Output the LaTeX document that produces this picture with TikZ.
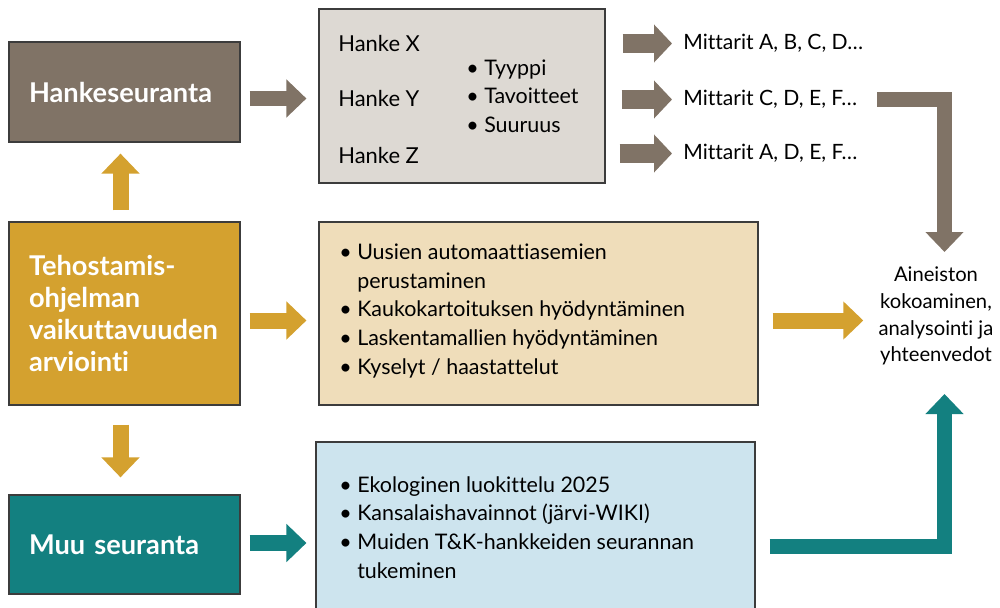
\documentclass[tikz,border=0pt]{standalone}
\usepackage{fontspec}
\setmainfont{Lato}[Ligatures=NoCommon]
\usepackage{xcolor}
\usetikzlibrary{arrows.meta}

\definecolor{hsbrown}{HTML}{807366}
\definecolor{hsgold}{HTML}{D4A12F}
\definecolor{hsteal}{HTML}{138080}
\definecolor{hkfill}{HTML}{DDD9D3}
\definecolor{midfill}{HTML}{EFDDBA}
\definecolor{lowfill}{HTML}{CDE4EE}
\definecolor{edge}{HTML}{3C3C3C}

\hyphenpenalty=10000

\tikzset{
  box/.style={draw=edge, line width=0.7pt, inner sep=0pt},
  title/.style={box, text=white, minimum width=4.62cm, text width=3.82cm,
    inner xsep=0.4cm, align=left, font=\bfseries\fontsize{15.5}{18.1}\selectfont},
  body/.style={inner sep=0pt, align=left, font=\fontsize{12.2}{16.3}\selectfont},
  barrow/.style={line width=0.32cm, -{Triangle[length=0.4cm,width=0.74cm]}},
  marrow/.style={line width=0.38cm, hsbrown, -{Triangle[length=0.36cm,width=0.74cm]}},
  earrow/.style={line width=0.3cm, line join=miter, -{Triangle[length=0.4cm,width=0.74cm]}},
}

\begin{document}
\begin{tikzpicture}[x=0.02cm, y=-0.02cm]
  \useasboundingbox (0,0) rectangle (1000,608);

  % left column
  \node[title, fill=hsbrown, minimum height=2cm] (hs) at (124.5,92) {Hankeseuranta};
  \node[title, fill=hsgold, minimum height=3.66cm] (teho) at (124.5,313.5)
    {Tehostamis-\\ohjelman\\vaikuttavuuden\\arviointi};
  \node[title, fill=hsteal, minimum height=1.98cm] (muu) at (124.5,544.5) {Muu seuranta};

  % lists
  \node[box, fill=hkfill, minimum width=5.72cm, minimum height=3.48cm] (hk) at (462,96) {};
  \node[box, fill=midfill, minimum width=8.78cm, minimum height=3.66cm] (mid) at (538.5,313.5) {};
  \node[box, fill=lowfill, minimum width=8.78cm, minimum height=3.4cm] (low) at (535.5,527) {};

  \node[body, anchor=west, font=\fontsize{12.5}{14}\selectfont] (hx) at (338,44) {Hanke X};
  \node[body, anchor=west, font=\fontsize{12.5}{14}\selectfont] (hy) at (338,99) {Hanke Y};
  \node[body, anchor=west, font=\fontsize{12.5}{14}\selectfont] (hz) at (338,155) {Hanke Z};
  \node[body, anchor=west] (hlist) at (466,96)
    {\textbullet\ Tyyppi\\\textbullet\ Tavoitteet\\\textbullet\ Suuruus};

  \node[body, anchor=west] (midlist) at (339,311)
    {\textbullet\ Uusien automaattiasemien\\
     \hphantom{\textbullet\ }perustaminen\\
     \textbullet\ Kaukokartoituksen hyödyntäminen\\
     \textbullet\ Laskentamallien hyödyntäminen\\
     \textbullet\ Kyselyt / haastattelut};
  \node[body, anchor=west] (lowlist) at (339,527.5)
    {\textbullet\ Ekologinen luokittelu 2025\\
     \textbullet\ Kansalaishavainnot (järvi-WIKI)\\
     \textbullet\ Muiden T\&K-hankkeiden seurannan\\
     \hphantom{\textbullet\ }tukeminen};

  % right column
  \node[body, anchor=west, font=\fontsize{12}{14}\selectfont] (m1) at (683,43.5) {Mittarit A, B, C, D\ldots};
  \node[body, anchor=west, font=\fontsize{12}{14}\selectfont] (m2) at (683,99.5) {Mittarit C, D, E, F\ldots};
  \node[body, anchor=west, font=\fontsize{12}{14}\selectfont] (m3) at (683,153.5) {Mittarit A, D, E, F\ldots};
  \node[body, align=center, font=\fontsize{11.5}{15.3}\selectfont] (ain) at (936,316)
    {Aineiston\\kokoaminen,\\analysointi ja\\yhteenvedot};
  \coordinate (aintop) at (944.5,252);
  \coordinate (ainbot) at (944.5,394);

  % arrows
  \draw[barrow, hsgold, shorten <=0.22cm, shorten >=0.22cm]
    ([xshift=-0.08cm]teho.north) -- ([xshift=-0.08cm]hs.south);
  \draw[barrow, hsgold, shorten <=0.38cm, shorten >=0.34cm]
    ([xshift=-0.08cm]teho.south) -- ([xshift=-0.08cm]muu.north);
  \draw[barrow, hsbrown, shorten <=0.18cm, shorten >=0.24cm]
    ([yshift=-0.13cm]hs.east) -- ([yshift=-0.13cm]hs.east -| hk.west);
  \draw[barrow, hsgold, shorten <=0.18cm, shorten >=0.24cm]
    ([yshift=-0.14cm]teho.east) -- ([yshift=-0.14cm]teho.east -| mid.west);
  \draw[barrow, hsteal, shorten <=0.18cm, shorten >=0.18cm]
    ([yshift=0.03cm]muu.east) -- ([yshift=0.03cm]muu.east -| low.west);

  \draw[marrow, shorten <=0.34cm, shorten >=0.22cm] (hk.east |- m1.west) -- (m1.west);
  \draw[marrow, shorten <=0.32cm, shorten >=0.22cm] (hk.east |- m2.west) -- (m2.west);
  \draw[marrow, shorten <=0.28cm, shorten >=0.22cm] (hk.east |- m3.west) -- (m3.west);

  \draw[barrow, hsgold, shorten <=0.28cm, shorten >=0.3cm]
    ([yshift=-0.14cm]mid.east) -- ([yshift=-0.14cm]mid.east -| ain.west);
  \draw[earrow, hsbrown, shorten <=0.4cm] (m2.east) -| (aintop);
  \draw[earrow, hsteal, shorten <=0.28cm] ([yshift=-0.38cm]low.east) -| (ainbot);
\end{tikzpicture}
\end{document}
